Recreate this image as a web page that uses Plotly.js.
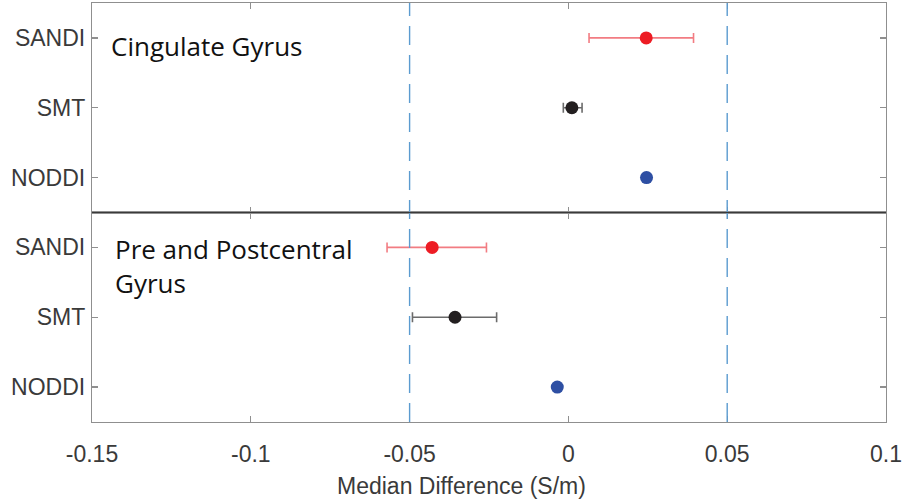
<!DOCTYPE html>
<html>
<head>
<meta charset="utf-8">
<script src="https://cdn.plot.ly/plotly-3.0.1.min.js"></script>
<style>html,body{margin:0;padding:0;background:#fff;}#chart{width:902px;height:503px;}</style>
</head>
<body>
<div id="chart"></div>
<script>
// ---- data ----
const methods = ['SANDI', 'SMT', 'NODDI'];
const methodColors = ['#ED1C24', '#231F20', '#2E4FA3'];
const errColors = ['#F27C82', '#6B6B6B', '#2E4FA3'];

const cingMedian = [0.0245, 0.0011, 0.0246];
const cingLow    = [0.0065, -0.0016, null];
const cingHigh   = [0.0394, 0.0043, null];

const preMedian  = [-0.0429, -0.0357, -0.0035];
const preLow     = [-0.0571, -0.0491, null];
const preHigh    = [-0.0258, -0.0226, null];

const xTickVals   = [-0.15, -0.1, -0.05, 0, 0.05, 0.1];
const xTickLabels = ['-0.15', '-0.1', '-0.05', '0', '0.05', '0.1'];
const refLines = [-0.05, 0.05];

const regionLabels = ['Cingulate Gyrus', 'Pre and Postcentral<br>Gyrus'];
const xTitle = 'Median Difference (S/m)';

// ---- traces ----
const traces = [];
function addPanel(med, lo, hi, yaxis, xaxis) {
  methods.forEach((m, i) => {
    const t = {
      type: 'scatter', mode: 'markers',
      x: [med[i]], y: [m],
      xaxis: xaxis, yaxis: yaxis,
      marker: {color: methodColors[i], size: 13},
      showlegend: false, hoverinfo: 'x+y'
    };
    if (lo[i] !== null) {
      t.error_x = {
        type: 'data', symmetric: false,
        array: [hi[i] - med[i]], arrayminus: [med[i] - lo[i]],
        color: errColors[i], thickness: 1.6, width: 5
      };
    }
    traces.push(t);
  });
}
addPanel(cingMedian, cingLow, cingHigh, 'y', 'x2');
addPanel(preMedian, preLow, preHigh, 'y2', 'x');

const frame = '#8f8f8f';
const tickFont = {family: 'Liberation Sans, Arial, sans-serif', size: 23, color: '#3a3a3a'};

const yCommon = {
  type: 'category',
  categoryorder: 'array', categoryarray: ['NODDI', 'SMT', 'SANDI'],
  range: [-0.5, 2.5],
  ticks: 'inside', ticklen: 6, tickcolor: frame, tickwidth: 1.3,
  showline: true, linecolor: frame, linewidth: 1.2, mirror: 'ticks',
  showgrid: false, zeroline: false, fixedrange: true,
  ticklabelstandoff: 1,
  tickfont: tickFont
};
const xCommon = {
  range: [-0.15, 0.1],
  tickvals: xTickVals, ticktext: xTickLabels,
  ticks: 'inside', ticklen: 6, tickcolor: frame, tickwidth: 1.3,
  showline: true, linecolor: frame, linewidth: 1.2, mirror: 'ticks',
  showgrid: false, zeroline: false,
  tickfont: tickFont
};

const shapes = refLines.map(v => ({
  type: 'line', xref: 'x', yref: 'paper', x0: v, x1: v, y0: 0, y1: 1,
  line: {color: '#5B9BD0', width: 1.4, dash: '19px,10px'}
}));
shapes.push({
  type: 'line', xref: 'paper', yref: 'paper', x0: 0, x1: 1, y0: 0.5, y1: 0.5,
  line: {color: '#3a3a3a', width: 1}
});

const annFont = {family: 'Open Sans, sans-serif', size: 26, color: '#111111'};

const layout = {
  width: 902, height: 503,
  margin: {l: 92, r: 16, t: 3, b: 81},
  paper_bgcolor: '#ffffff', plot_bgcolor: '#ffffff',
  xaxis: Object.assign({}, xCommon, {anchor: 'y2', ticklabelstandoff: 11}),
  xaxis2: Object.assign({}, xCommon, {anchor: 'y', matches: 'x', showticklabels: false}),
  yaxis: Object.assign({}, yCommon, {domain: [0.5, 1], anchor: 'x2'}),
  yaxis2: Object.assign({}, yCommon, {domain: [0, 0.5], anchor: 'x'}),
  shapes: shapes,
  annotations: [
    {text: regionLabels[0], xref: 'paper', yref: 'paper', x: 0.0215, y: 0.897,
     xanchor: 'left', yanchor: 'middle', showarrow: false, align: 'left', font: annFont},
    {text: regionLabels[1], xref: 'paper', yref: 'paper', x: 0.026, y: 0.373,
     xanchor: 'left', yanchor: 'middle', showarrow: false, align: 'left', font: annFont},
    {text: xTitle, xref: 'paper', yref: 'paper', x: 0.4654, y: -0.153,
     xanchor: 'center', yanchor: 'middle', showarrow: false,
     font: {family: 'Liberation Sans, Arial, sans-serif', size: 23, color: '#3a3a3a'}}
  ]
};

Plotly.newPlot('chart', traces, layout, {displayModeBar: false, staticPlot: true});
</script>
</body>
</html>
